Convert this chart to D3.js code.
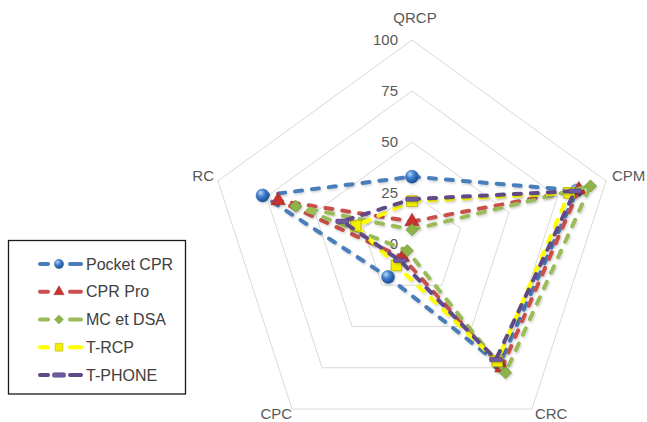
<!DOCTYPE html>
<html>
<head>
<meta charset="utf-8">
<script src="https://cdn.jsdelivr.net/npm/d3@7"></script>
<style>
  html, body { margin: 0; padding: 0; background: #fff; }
  svg { display: block; font-family: "Liberation Sans", Arial, Helvetica, sans-serif; }
</style>
</head>
<body>
<svg id="chart" width="647" height="422"></svg>
<script>
// ---- data ----
const axes = ["QRCP", "CPM", "CRC", "CPC", "RC"];
const tickValues = [0, 25, 50, 75, 100];
const seriesNames = ["Pocket CPR", "CPR Pro", "MC et DSA", "T-RCP", "T-PHONE"];
const pocketCPR = [33, 85, 73, 20, 77];
const cprPro    = [11, 86, 75, 8, 69];
const mcEtDSA   = [7, 92, 78, 4, 60];
const tRCP      = [21, 81, 71, 13, 29];
const tPHONE    = [22, 84, 70, 10, 36];
const seriesValues = [pocketCPR, cprPro, mcEtDSA, tRCP, tPHONE];
const seriesColors = ["#4a7ebb", "#c9504c", "#9bbb59", "#ffff00", "#5f4a86"];
const markerKinds = ["circle", "triangle", "diamond", "square", "bar"];

// ---- layout ----
const svg = d3.select("#chart");
const cx = 412, cy = 244, R = 204;
const rScale = d3.scaleLinear().domain([0, 100]).range([0, R]);
const aScale = d3.scaleLinear().domain([0, axes.length]).range([0, 2 * Math.PI]);

const defs = svg.append("defs");
const g1 = defs.append("radialGradient").attr("id", "ballGrad")
  .attr("cx", "35%").attr("cy", "30%").attr("r", "70%");
g1.append("stop").attr("offset", "0%").attr("stop-color", "#b9d6f7");
g1.append("stop").attr("offset", "45%").attr("stop-color", "#3f7fcf");
g1.append("stop").attr("offset", "100%").attr("stop-color", "#1c4f93");

const shadow = defs.append("filter").attr("id", "shadow")
  .attr("x", "-10%").attr("y", "-10%").attr("width", "120%").attr("height", "120%");
shadow.append("feDropShadow").attr("dx", 1).attr("dy", 1.5).attr("stdDeviation", 1)
  .attr("flood-color", "#000").attr("flood-opacity", 0.18);

const chart = svg.append("g").attr("transform", `translate(${cx},${cy})`);

// grid rings (no ring at 0)
const ringLine = d3.lineRadial()
  .angle((d, i) => aScale(i))
  .radius(d => rScale(d))
  .curve(d3.curveLinearClosed);

tickValues.filter(t => t > 0).forEach(t => {
  chart.append("path")
    .attr("d", ringLine(axes.map(() => t)))
    .attr("fill", "none")
    .attr("stroke", "#d9d9d9")
    .attr("stroke-width", 1);
});

// tick labels
chart.selectAll("text.tick").data(tickValues).enter().append("text")
  .attr("class", "tick")
  .attr("x", -14)
  .attr("y", d => -rScale(d))
  .attr("dy", "0.35em")
  .attr("text-anchor", "end")
  .attr("font-size", 15)
  .attr("fill", "#595959")
  .text(d => d);

// axis labels
function pt(i, v) {
  const a = aScale(i);
  return [rScale(v) * Math.sin(a), -rScale(v) * Math.cos(a)];
}
const labelCfg = [
  { dx: 3, dy: -22, anchor: "middle" },
  { dx: 6, dy: -5, anchor: "start" },
  { dx: 3, dy: 5, anchor: "start" },
  { dx: 0, dy: 5, anchor: "end" },
  { dx: -4, dy: -5, anchor: "end" }
];
axes.forEach((name, i) => {
  const p = pt(i, 100);
  chart.append("text")
    .attr("x", p[0] + labelCfg[i].dx)
    .attr("y", p[1] + labelCfg[i].dy)
    .attr("dy", "0.35em")
    .attr("text-anchor", labelCfg[i].anchor)
    .attr("font-size", 15)
    .attr("fill", "#595959")
    .text(name);
});

// marker drawing
function drawMarker(sel, kind, color) {
  if (kind === "circle") {
    sel.append("circle").attr("r", 6.5).attr("fill", "url(#ballGrad)")
      .attr("stroke", "#2a5e9f").attr("stroke-width", 0.5);
  } else if (kind === "triangle") {
    sel.append("path").attr("d", d3.symbol().type(d3.symbolTriangle).size(90)())
      .attr("fill", "#c8312e").attr("stroke", "#9a2a28").attr("stroke-width", 0.6);
  } else if (kind === "diamond") {
    sel.append("path").attr("d", d3.symbol().type(d3.symbolSquare).size(75)())
      .attr("transform", "rotate(45)")
      .attr("fill", "#8db44a").attr("stroke", "#6b8f33").attr("stroke-width", 0.6);
  } else if (kind === "square") {
    sel.append("path").attr("d", d3.symbol().type(d3.symbolSquare).size(115)())
      .attr("fill", "#f4f000").attr("stroke", "#b8b200").attr("stroke-width", 0.8);
  } else if (kind === "bar") {
    sel.append("rect").attr("x", -6.5).attr("y", -2.2).attr("width", 13).attr("height", 4.4)
      .attr("rx", 1.5).attr("fill", "#6f5aa0").attr("stroke", "#4b3a73").attr("stroke-width", 0.5);
  }
}

// series
const seriesLine = d3.lineRadial()
  .angle((d, i) => aScale(i))
  .radius(d => rScale(d))
  .curve(d3.curveLinearClosed);

seriesValues.forEach((vals, s) => {
  const g = chart.append("g").attr("filter", "url(#shadow)");
  g.append("path")
    .attr("d", seriesLine(vals))
    .attr("fill", "none")
    .attr("stroke", seriesColors[s])
    .attr("stroke-width", 4)
    .attr("stroke-linecap", "round")
    .attr("stroke-linejoin", "round")
    .attr("stroke-dasharray", "7,10");
  vals.forEach((v, i) => {
    const p = pt(i, v);
    const m = g.append("g").attr("transform", `translate(${p[0]},${p[1]})`);
    drawMarker(m, markerKinds[s], seriesColors[s]);
  });
});

// legend
const legend = svg.append("g");
legend.append("rect")
  .attr("x", 8.5).attr("y", 240.5).attr("width", 177).attr("height", 153.5)
  .attr("fill", "#fff").attr("stroke", "#1a1a1a").attr("stroke-width", 1.3);
const legendY = d3.scalePoint().domain(seriesNames).range([264, 375]);
seriesNames.forEach((name, s) => {
  const y = legendY(name);
  const lg = legend.append("g");
  [[40, 48], [70, 81]].forEach(seg => {
    lg.append("line")
      .attr("x1", seg[0]).attr("x2", seg[1]).attr("y1", y).attr("y2", y)
      .attr("stroke", seriesColors[s]).attr("stroke-width", 4)
      .attr("stroke-linecap", "round");
  });
  const k = markerKinds[s] === "bar" ? 1 : 0.72;
  const m = lg.append("g").attr("transform", `translate(59,${y}) scale(${k})`);
  drawMarker(m, markerKinds[s], seriesColors[s]);
  lg.append("text")
    .attr("x", 86).attr("y", y).attr("dy", "0.35em")
    .attr("font-size", 16).attr("fill", "#404040")
    .text(name);
});
</script>
</body>
</html>
